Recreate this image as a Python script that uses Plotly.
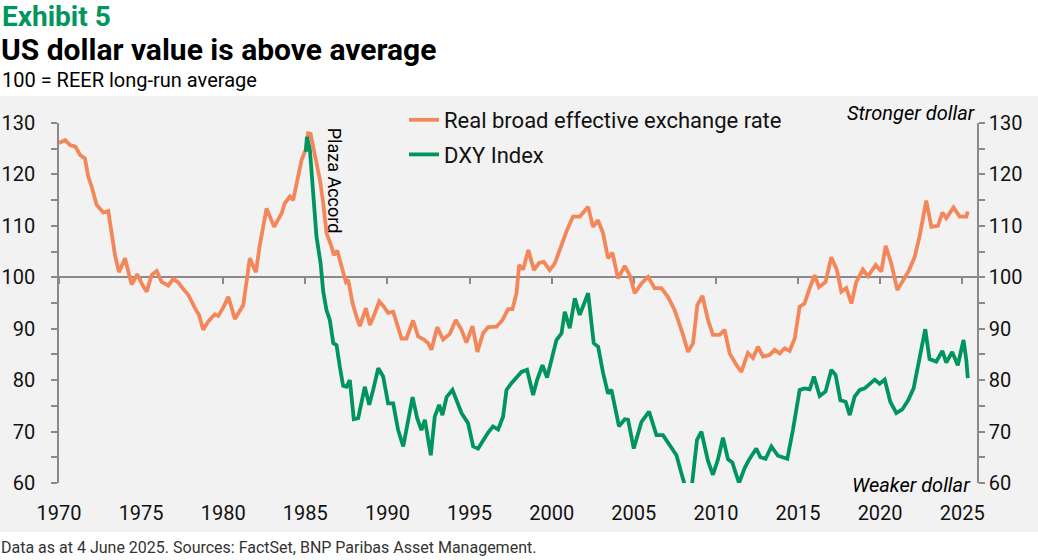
import plotly.graph_objects as go

# Real broad effective exchange rate (100 = long-run average)
reer_year = [1970.00, 1970.37, 1970.67, 1971.00, 1971.28, 1971.58, 1971.78, 1971.99, 1972.29, 1972.70,
             1973.00, 1973.17, 1973.41, 1973.65, 1974.02, 1974.42, 1974.77, 1975.07, 1975.34, 1975.64,
             1975.95, 1976.25, 1976.65, 1976.96, 1977.26, 1977.57, 1977.87, 1978.28, 1978.52, 1978.78,
             1979.09, 1979.49, 1979.70, 1980.00, 1980.31, 1980.71, 1981.22, 1981.62, 1981.99, 1982.23,
             1982.64, 1983.10, 1983.55, 1983.75, 1984.06, 1984.26, 1984.40, 1984.57, 1984.77, 1985.03,
             1985.17, 1985.32, 1985.58, 1985.89, 1986.09, 1986.29, 1986.60, 1986.74, 1986.94, 1987.21,
             1987.47, 1987.61, 1987.88, 1988.12, 1988.32, 1988.69, 1988.93, 1989.17, 1989.50, 1989.78,
             1990.04, 1990.35, 1990.59, 1990.86, 1991.16, 1991.56, 1991.87, 1992.22, 1992.48, 1992.68,
             1993.03, 1993.39, 1993.80, 1994.16, 1994.51, 1994.81, 1995.18, 1995.48, 1995.82, 1996.13,
             1996.64, 1997.01, 1997.35, 1997.61, 1997.86, 1998.02, 1998.26, 1998.58, 1998.92, 1999.23,
             1999.52, 1999.88, 2000.19, 2000.49, 2000.90, 2001.30, 2001.71, 2002.22, 2002.52, 2002.82,
             2003.13, 2003.43, 2003.70, 2004.04, 2004.45, 2004.75, 2005.06, 2005.47, 2005.87, 2006.27,
             2006.68, 2007.08, 2007.49, 2008.00, 2008.30, 2008.61, 2008.87, 2009.18, 2009.52, 2009.82,
             2010.23, 2010.53, 2010.84, 2011.24, 2011.55, 2011.95, 2012.26, 2012.56, 2012.87, 2013.27,
             2013.58, 2013.88, 2014.19, 2014.49, 2014.80, 2015.10, 2015.40, 2015.67, 2016.01, 2016.28,
             2016.68, 2017.03, 2017.37, 2017.64, 2017.94, 2018.25, 2018.55, 2018.95, 2019.26, 2019.73,
             2020.07, 2020.34, 2020.68, 2021.05, 2021.43, 2021.75, 2022.10, 2022.40, 2022.81, 2023.12,
             2023.52, 2023.79, 2024.03, 2024.47, 2024.84, 2025.25, 2025.34]
reer_value = [126.1, 126.7, 125.7, 125.4, 123.8, 123.1, 119.6, 117.6, 114.1, 112.6,
              112.9, 108.9, 104.3, 101.0, 103.7, 98.6, 100.6, 98.6, 97.2, 100.4,
              101.2, 99.1, 98.4, 99.7, 99.0, 97.7, 96.6, 94.0, 92.7, 89.8,
              91.4, 92.8, 92.5, 94.1, 96.2, 91.9, 94.6, 103.7, 101.0, 106.3,
              113.4, 109.8, 112.4, 114.4, 115.7, 115.0, 117.3, 119.9, 122.8, 124.9,
              128.0, 127.9, 124.1, 118.9, 114.4, 108.6, 105.9, 104.3, 105.2, 102.1,
              99.1, 99.5, 94.9, 92.3, 90.5, 94.0, 90.7, 92.5, 95.3, 94.3,
              93.1, 93.3, 91.0, 88.1, 88.1, 91.6, 88.5, 87.9, 87.2, 85.9,
              90.3, 87.9, 89.0, 91.7, 89.8, 87.3, 90.5, 85.5, 89.1, 90.3,
              90.4, 91.7, 93.8, 93.8, 96.9, 102.4, 101.5, 105.3, 101.4, 102.8,
              103.0, 101.4, 102.7, 105.3, 108.9, 111.8, 111.8, 113.7, 109.8, 111.1,
              108.6, 103.7, 104.8, 99.8, 102.2, 100.4, 96.9, 98.8, 100.1, 97.9,
              97.9, 96.2, 93.6, 88.8, 85.5, 87.2, 94.6, 96.4, 91.7, 88.8,
              88.8, 89.8, 85.2, 83.0, 81.6, 85.3, 84.3, 86.5, 84.6, 84.9,
              85.9, 85.2, 86.2, 85.7, 88.1, 94.3, 94.9, 97.5, 100.4, 98.1,
              99.1, 103.9, 101.4, 97.2, 97.9, 94.9, 99.1, 101.5, 100.2, 102.4,
              101.1, 106.1, 102.7, 97.5, 99.5, 101.3, 103.9, 107.9, 114.9, 109.8,
              110.0, 112.6, 111.5, 113.6, 111.8, 111.8, 112.8]

# DXY index, rebased
dxy_year = [1985.03, 1985.10, 1985.28, 1985.48, 1985.68, 1985.93, 1986.09, 1986.29, 1986.49, 1986.70,
            1986.90, 1987.10, 1987.30, 1987.51, 1987.71, 1987.95, 1988.22, 1988.62, 1988.89, 1989.13,
            1989.44, 1989.74, 1990.04, 1990.35, 1990.65, 1990.96, 1991.26, 1991.53, 1991.81, 1992.07,
            1992.28, 1992.48, 1992.64, 1992.88, 1993.15, 1993.35, 1993.60, 1993.96, 1994.16, 1994.51,
            1994.91, 1995.22, 1995.52, 1995.82, 1996.13, 1996.43, 1996.74, 1997.04, 1997.25, 1997.55,
            1997.86, 1998.16, 1998.50, 1998.87, 1999.11, 1999.44, 1999.72, 2000.05, 2000.29, 2000.60,
            2000.80, 2001.10, 2001.41, 2001.71, 2002.22, 2002.56, 2002.83, 2003.13, 2003.43, 2003.64,
            2004.10, 2004.45, 2004.65, 2005.00, 2005.47, 2005.93, 2006.38, 2006.78, 2007.19, 2007.60,
            2007.90, 2008.05, 2008.25, 2008.45, 2008.85, 2009.12, 2009.32, 2009.52, 2009.82, 2010.13,
            2010.43, 2010.74, 2011.00, 2011.41, 2011.75, 2012.01, 2012.46, 2012.71, 2013.03, 2013.38,
            2013.78, 2014.35, 2014.69, 2014.94, 2015.10, 2015.40, 2015.71, 2015.97, 2016.32, 2016.68,
            2017.03, 2017.29, 2017.58, 2017.90, 2018.15, 2018.45, 2018.76, 2019.06, 2019.36, 2019.67,
            2019.97, 2020.28, 2020.62, 2020.99, 2021.35, 2021.69, 2022.04, 2022.40, 2022.75, 2023.01,
            2023.42, 2023.79, 2024.03, 2024.39, 2024.73, 2025.08, 2025.25, 2025.34]
dxy_value = [124.4, 127.3, 124.7, 116.3, 107.9, 102.7, 97.2, 93.6, 91.7, 87.2,
             86.8, 82.6, 78.9, 78.7, 80.0, 72.4, 72.6, 78.7, 75.2, 78.1,
             82.3, 80.7, 75.5, 75.5, 70.3, 67.1, 72.3, 76.7, 72.6, 70.3,
             72.3, 68.4, 65.4, 72.9, 75.2, 73.2, 76.7, 78.1, 76.3, 73.6,
             71.6, 67.1, 66.7, 68.4, 69.8, 71.0, 70.4, 72.9, 78.1, 79.4,
             80.4, 81.6, 82.0, 77.1, 80.0, 82.9, 80.5, 84.6, 87.8, 89.1,
             93.3, 90.1, 95.9, 92.7, 96.9, 87.2, 86.5, 81.4, 77.4, 78.1,
             71.0, 72.4, 72.3, 66.7, 71.9, 73.9, 69.3, 69.3, 67.4, 65.4,
             61.9, 60.2, 56.0, 57.0, 68.4, 70.0, 67.1, 64.3, 61.6, 64.6,
             68.8, 64.6, 64.0, 60.0, 62.9, 64.5, 66.7, 65.0, 64.7, 67.1,
             65.3, 64.7, 70.3, 74.5, 78.1, 78.4, 78.2, 80.7, 76.9, 77.8,
             82.0, 81.0, 76.1, 75.8, 73.2, 76.8, 78.1, 78.4, 79.3, 80.1,
             79.3, 80.1, 75.8, 73.6, 74.3, 76.0, 78.4, 83.9, 89.9, 84.1,
             83.6, 85.7, 83.4, 85.5, 82.9, 87.8, 83.9, 80.4]

year_ticks = [1970, 1975, 1980, 1985, 1990, 1995, 2000, 2005, 2010, 2015, 2020, 2025]
value_ticks = [60, 70, 80, 90, 100, 110, 120, 130]

ORANGE = "#F4875A"
GREEN = "#00955E"
AXIS = "#8a8a8a"
BG = "#F2F2F2"
FONT = "Roboto, Liberation Sans, sans-serif"

W, H = 1038, 560
L, R, T, B = 59, 61, 123, 77
PW, PH = W - L - R, H - T - B


def px(x):
    return (x - L) / PW


def py(y):
    return (H - B - y) / PH


x_range = [1970, 2025.9]
y_range = [60, 130]

fig = go.Figure()

fig.add_trace(go.Scatter(
    x=reer_year, y=reer_value, mode="lines",
    name="Real broad effective exchange rate",
    line=dict(color=ORANGE, width=3.8),
    legendgroup="reer",
))
fig.add_trace(go.Scatter(
    x=dxy_year, y=dxy_value, mode="lines",
    name="DXY Index",
    line=dict(color=GREEN, width=3.8),
    legendgroup="dxy", xaxis="x2", yaxis="y2",
))

ytick_style = dict(
    range=y_range, tickvals=value_ticks, showgrid=False, zeroline=False,
    showline=True, linecolor=AXIS, linewidth=1.5, automargin=False,
    ticks="outside", ticklen=6, tickcolor=AXIS, tickwidth=1.5,
    minor=dict(dtick=5, ticks="outside", ticklen=6, tickcolor=AXIS, tickwidth=1.5),
    tickfont=dict(family=FONT, size=20, color="#111"),
)

fig.update_layout(
    width=W, height=H,
    margin=dict(l=L, r=R, t=T, b=B, autoexpand=False),
    paper_bgcolor="white",
    plot_bgcolor=BG,
    font=dict(family=FONT, color="#111"),
    showlegend=True,
    legend=dict(
        x=px(404), y=py(99), xanchor="left", yanchor="top",
        bgcolor="rgba(0,0,0,0)", font=dict(family=FONT, size=22, color="#111"),
        tracegroupgap=3,
    ),
    xaxis=dict(
        range=x_range, tickvals=year_ticks, showgrid=False, zeroline=False,
        showline=False, ticks="outside", ticklen=12, tickcolor="rgba(0,0,0,0)",
        tickfont=dict(family=FONT, size=20, color="#111"), automargin=False,
    ),
    xaxis2=dict(
        range=x_range, tickvals=year_ticks, overlaying="x", anchor="free",
        position=(100 - y_range[0]) / (y_range[1] - y_range[0]),
        side="bottom", showgrid=False, zeroline=False, showticklabels=False,
        showline=True, linecolor=AXIS, linewidth=2, automargin=False,
        ticks="outside", ticklen=6, tickcolor=AXIS, tickwidth=2,
        layer="below traces",
    ),
    yaxis=dict(side="left", ticklabelstandoff=12, **ytick_style),
    yaxis2=dict(side="right", overlaying="y", **ytick_style),
    shapes=[dict(
        type="rect", xref="paper", yref="paper",
        x0=px(0), x1=px(W), y0=py(532), y1=py(96),
        fillcolor=BG, line=dict(width=0), layer="below",
    )],
    annotations=[
        dict(text="<b>Exhibit 5</b>", xref="paper", yref="paper",
             x=px(0), y=py(17), xanchor="left", yanchor="middle", showarrow=False,
             font=dict(family=FONT, size=28, color="#00965E")),
        dict(text="<b>US dollar value is above average</b>", xref="paper", yref="paper",
             x=px(-1), y=py(49), xanchor="left", yanchor="middle", showarrow=False,
             font=dict(family=FONT, size=30, color="#000")),
        dict(text="100 = REER long-run average", xref="paper", yref="paper",
             x=px(0), y=py(80), xanchor="left", yanchor="middle", showarrow=False,
             font=dict(family=FONT, size=20, color="#000")),
        dict(text="<i>Stronger dollar</i>", xref="paper", yref="paper",
             x=px(978), y=py(113), xanchor="right", yanchor="middle", showarrow=False,
             font=dict(family=FONT, size=20, color="#000")),
        dict(text="<i>Weaker dollar</i>", xref="paper", yref="paper",
             x=px(973), y=py(485), xanchor="right", yanchor="middle", showarrow=False,
             font=dict(family=FONT, size=20, color="#000")),
        dict(text="Plaza Accord", x=1986.8, y=118.8, xref="x", yref="y",
             textangle=90, showarrow=False,
             font=dict(family=FONT, size=18, color="#000")),
        dict(text="Data as at 4 June 2025. Sources: FactSet, BNP Paribas Asset Management.",
             xref="paper", yref="paper", x=px(-1), y=py(547), xanchor="left", yanchor="middle",
             showarrow=False, font=dict(family=FONT, size=16, color="#333")),
    ],
)

pin_page = (
    "document.documentElement.style.margin = '0';"
    "document.body.style.margin = '0';"
    "document.body.style.padding = '0';"
    "var g = document.getElementById('{plot_id}');"
    "g.style.position = 'absolute'; g.style.left = '0px'; g.style.top = '0px';"
)

fig.write_html("out.html", config={"displayModeBar": False}, post_script=pin_page)
